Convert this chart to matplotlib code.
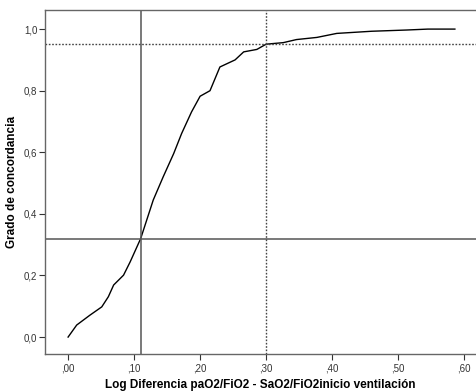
import numpy as np
from matplotlib import pyplot as plt
from matplotlib.ticker import FuncFormatter

plt.rcParams['font.family'] = ['Liberation Sans', 'DejaVu Sans']

# Curva (diferencia log vs grado de concordancia)
log_dif = [0.000, 0.013, 0.033, 0.051, 0.061, 0.069, 0.084, 0.094, 0.102, 0.110,
           0.129, 0.144, 0.160, 0.172, 0.187, 0.200, 0.215, 0.230, 0.253, 0.266,
           0.286, 0.300, 0.326, 0.346, 0.377, 0.407, 0.460, 0.513, 0.545, 0.586]
concordancia = [0.000, 0.039, 0.071, 0.098, 0.131, 0.169, 0.201, 0.244, 0.282, 0.320,
                0.445, 0.520, 0.596, 0.661, 0.731, 0.782, 0.800, 0.877, 0.900, 0.926,
                0.934, 0.951, 0.956, 0.966, 0.973, 0.986, 0.993, 0.997, 1.000, 1.000]

# Líneas de referencia
corte_x = 0.11
corte_y = 0.32
ref_x = 0.30
ref_y = 0.95

x_ticks = [0.0, 0.1, 0.2, 0.3, 0.4, 0.5, 0.6]
y_ticks = [0.0, 0.2, 0.4, 0.6, 0.8, 1.0]

fig = plt.figure(figsize=(4.76, 3.91), dpi=100)
ax = fig.add_axes([45 / 476, 37 / 391, 1 - 45 / 476, 344 / 391])

ax.plot(log_dif, concordancia, color='black', lw=1.0)

ax.axvline(corte_x, color='#555555', lw=1.1)
ax.axhline(corte_y, color='#555555', lw=1.1)
ax.axvline(ref_x, color='#444444', lw=1.0, ls=(0, (1.2, 1.2)))
ax.axhline(ref_y, color='#444444', lw=1.0, ls=(0, (1.2, 1.2)))

ax.set_xlim(-0.035, 0.618)
ax.set_ylim(-0.055, 1.062)
ax.set_xticks(x_ticks)
ax.set_yticks(y_ticks)
ax.xaxis.set_major_formatter(FuncFormatter(lambda v, p: ('%.2f' % v)[1:].replace('.', ',')))
ax.yaxis.set_major_formatter(FuncFormatter(lambda v, p: ('%.1f' % v).replace('.', ',')))
ax.tick_params(labelsize=7, colors='#333333', length=4, width=0.8)
ax.tick_params(axis='y', pad=1.5)
ax.tick_params(axis='x', pad=2.5)

for s in ['left', 'bottom', 'top']:
    ax.spines[s].set_color('#666666')
    ax.spines[s].set_linewidth(1.0)
ax.spines['right'].set_visible(False)

ax.set_xlabel('Log Diferencia paO2/FiO2 - SaO2/FiO2inicio ventilación',
              fontsize=8.5, fontweight='bold', labelpad=4)
ax.set_ylabel('Grado de concordancia', fontsize=8.5, fontweight='bold', labelpad=4)

plt.savefig('out.png', dpi=100)
